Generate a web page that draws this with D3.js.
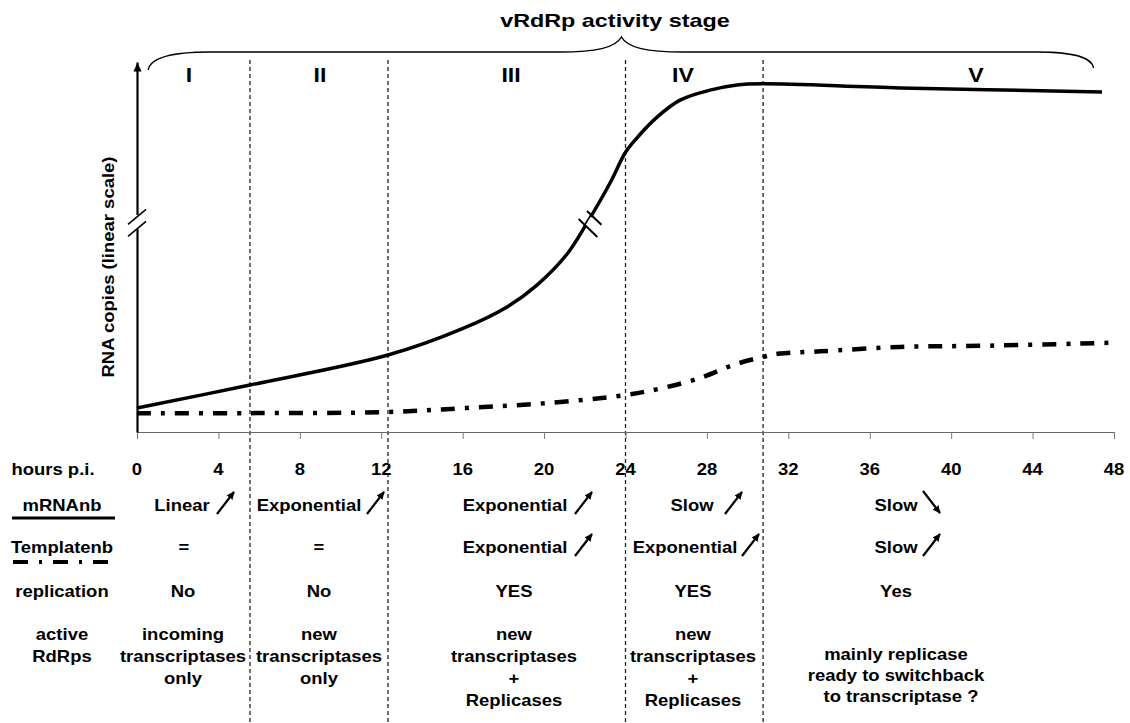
<!DOCTYPE html>
<html><head><meta charset="utf-8">
<script src="https://cdn.jsdelivr.net/npm/d3@7"></script>
<style>
body{margin:0;background:#fff}
svg{display:block}
text{font-family:"Liberation Sans",Arial,Helvetica,sans-serif;font-weight:bold;fill:#000}
</style>
</head><body>
<svg id="chart" width="1130" height="723"></svg>
<script>
// ---------- data ----------
const hourTicks = [0,4,8,12,16,20,24,28,32,36,40,44,48];
const stageNames = ["I","II","III","IV","V"];
const stageBounds = [5.55, 12.33, 24.0, 30.76];
const mrnaHours  = [0, 5.55, 12.33, 16.02, 18.18, 19.65, 21.13, 22.11, 23.24, 23.98, 24.47, 25.55, 26.68, 28.15, 29.48, 30.76, 37.49, 47.41];
const mrnaValues = [6.5, 12.7, 20.8, 28.0, 33.8, 39.7, 48.1, 56.5, 67.3, 75.4, 78.9, 85.1, 89.7, 92.4, 93.8, 94.1, 93.0, 91.9];
const templateHours  = [0, 5.55, 12.18, 16.21, 20.14, 23.98, 25.84, 27.66, 29.28, 30.76, 31.59, 33.56, 37.49, 41.56, 47.8];
const templateValues = [5.1, 5.1, 5.4, 6.5, 7.8, 10.0, 11.9, 14.6, 18.1, 20.3, 21.2, 21.8, 23.0, 23.3, 24.1];
const breakHour = 22.31, breakValue = 56.5;
const title = "vRdRp activity stage";
const yLabel = "RNA copies (linear scale)";
const rowLabels = ["hours p.i.", "mRNAnb", "Templatenb", "replication", "active", "RdRps"];
const mrnaTrend = ["Linear","Exponential","Exponential","Slow","Slow"];
const mrnaArrow = ["up","up","up","up","down"];
const templateTrend = ["=","=","Exponential","Exponential","Slow"];
const templateArrow = [null,null,"up","up","up"];
const replication = ["No","No","YES","YES","Yes"];
const activeRdRps = [
  ["incoming","transcriptases","only"],
  ["new","transcriptases","only"],
  ["new","transcriptases","+","Replicases"],
  ["new","transcriptases","+","Replicases"],
  ["mainly replicase","ready to switchback","to transcriptase ?"]
];

// ---------- layout ----------
const W = 1130, H = 723;
const svg = d3.select("#chart");
const x = d3.scaleLinear().domain([0,48]).range([137,1114]);
const y = d3.scaleLinear().domain([0,100]).range([432,62]);
const L = {
  numeralX: [189,320,511,683,976], numeralY: 82,
  colX: [183,319,514,693,896],
  mrnaTextX: [182,309,515,692,896], mrnaArrowX: [217,367,575,725,923],
  tmplTextX: [184,319,515,685,896], tmplArrowX: [0,0,575,742,923],
  lastColX: [896,896,901],
  rowY: {hours:475, mrna:511, tmpl:553, repl:597, active:640, activeV:660},
  labelX: 62
};
const SX = 1.12, FS = 16.5;

function T(sel, px, py, s, o = {}) {
  const size = o.size || FS, sx = o.sx || SX;
  return sel.append("text")
    .attr("transform", `translate(${px},${py})${o.rot ? ` rotate(${o.rot})` : ""} scale(${sx},1)`)
    .attr("text-anchor", o.anchor || "middle")
    .style("font-size", size + "px")
    .text(s);
}

const defs = svg.append("defs");
defs.append("marker").attr("id","ah").attr("viewBox","0 0 10 10")
  .attr("refX",9).attr("refY",5).attr("markerWidth",8).attr("markerHeight",8)
  .attr("markerUnits","userSpaceOnUse").attr("orient","auto")
  .append("path").attr("d","M0,0.5L10,5L0,9.5Z").attr("fill","#000");
defs.append("marker").attr("id","ya").attr("viewBox","0 0 10 10")
  .attr("refX",10).attr("refY",5).attr("markerWidth",10).attr("markerHeight",9)
  .attr("markerUnits","userSpaceOnUse").attr("orient","auto")
  .append("path").attr("d","M0,0.5L10,5L0,9.5Z").attr("fill","#000");

// ---------- stage boundaries ----------
svg.append("g").selectAll("line").data(stageBounds).join("line")
  .attr("x1", d => x(d)).attr("x2", d => x(d))
  .attr("y1", 60).attr("y2", H)
  .attr("stroke", "#222").attr("stroke-width", 1.3).attr("stroke-dasharray", "4,3");

// ---------- title & brace ----------
T(svg, 615, 27, title, {size: 19, sx: 1.23});
const bL = x(0.55), bR = x(47.0), bT = x(23.8);
svg.append("path")
  .attr("d", `M${bL},70 C${bL+2},58 ${bL+22},52 ${bL+62},52 L${bT-61},52 C${bT-26},52 ${bT-6},48 ${bT},37 C${bT+6},48 ${bT+26},52 ${bT+61},52 L${bR-57},52 C${bR-17},52 ${bR-2},58 ${bR},68`)
  .attr("fill","none").attr("stroke","#000").attr("stroke-width",1.4);

stageNames.forEach((s,i) => T(svg, L.numeralX[i], L.numeralY, s, {size: 21, sx: 1.1}));

// ---------- axes ----------
const gx = svg.append("g").attr("transform", `translate(0,${y(0)})`)
  .call(d3.axisBottom(x).tickValues(hourTicks).tickSize(7).tickSizeOuter(0).tickFormat(""));
gx.select(".domain").attr("stroke","#666").attr("stroke-width",1);
gx.selectAll(".tick line").attr("stroke","#777").attr("stroke-width",1);

const gy = svg.append("g").attr("transform", `translate(${x(0)},0)`)
  .call(d3.axisLeft(y).tickValues([]).tickSizeOuter(0));
gy.select(".domain").attr("stroke","#000").attr("stroke-width",2.2).attr("marker-end","url(#ya)");

// axis break
const ab = y(breakValue);
svg.append("rect").attr("x", x(0)-3).attr("y", ab-8).attr("width", 6).attr("height", 14).attr("fill","#fff");
[-6, 6].forEach(o => {
  svg.append("line")
    .attr("x1", x(0)-9).attr("y1", ab+o+7.5)
    .attr("x2", x(0)+9).attr("y2", ab+o-7.5)
    .attr("stroke","#000").attr("stroke-width",1.6);
});

// y label
T(svg, 114, 267, yLabel, {rot: -90});

// hour labels
svg.append("g").selectAll("g").data(hourTicks).join("g")
  .each(function(d){ T(d3.select(this), x(d), L.rowY.hours, String(d)); });

// ---------- curves ----------
const line = d3.line().x(d => x(d[0])).y(d => y(d[1])).curve(d3.curveCatmullRom.alpha(0.5));
svg.append("path").datum(templateHours.map((h,i)=>[h, templateValues[i]]))
  .attr("d", line).attr("fill","none").attr("stroke","#000")
  .attr("stroke-width",4.5).attr("stroke-dasharray","14,10,4,10");
svg.append("path").datum(mrnaHours.map((h,i)=>[h, mrnaValues[i]]))
  .attr("d", line).attr("fill","none").attr("stroke","#000").attr("stroke-width",3.5);

// curve break
{
  const cx = x(breakHour), cy = y(breakValue);
  const tx = 0.52, ty = -0.85;   // tangent direction
  const nx = 0.72, ny = 0.69;    // mark direction
  svg.append("line").attr("x1", cx - 5*tx).attr("y1", cy - 5*ty).attr("x2", cx + 5*tx).attr("y2", cy + 5*ty)
    .attr("stroke","#fff").attr("stroke-width",7);
  [[-6, 13], [6, 10]].forEach(([o, hl]) => {
    const mx = cx + o*tx, my = cy + o*ty;
    svg.append("line").attr("x1", mx - hl*nx).attr("y1", my - hl*ny).attr("x2", mx + hl*nx).attr("y2", my + hl*ny)
      .attr("stroke","#000").attr("stroke-width",2);
  });
}

// ---------- table ----------
const tbl = svg.append("g");
const rowYs = [L.rowY.hours, L.rowY.mrna, L.rowY.tmpl, L.rowY.repl, L.rowY.active, L.rowY.active + 22];
rowLabels.forEach((s,i) => T(tbl, i === 0 ? 53 : L.labelX, rowYs[i], s));
tbl.append("line").attr("x1",12).attr("x2",115).attr("y1",518).attr("y2",518)
  .attr("stroke","#000").attr("stroke-width",3);
tbl.append("line").attr("x1",13).attr("x2",110).attr("y1",562).attr("y2",562)
  .attr("stroke","#000").attr("stroke-width",4).attr("stroke-dasharray","15,11,3,11");

function arrow(ax, base, dir) {
  const p = dir === "up" ? [ax, base+3, ax+17, base-19] : [ax, base-20, ax+17, base+2];
  tbl.append("line").attr("x1",p[0]).attr("y1",p[1]).attr("x2",p[2]).attr("y2",p[3])
    .attr("stroke","#000").attr("stroke-width",2.2).attr("marker-end","url(#ah)");
}

mrnaTrend.forEach((s,i) => {
  T(tbl, L.mrnaTextX[i], L.rowY.mrna, s);
  if (mrnaArrow[i]) arrow(L.mrnaArrowX[i], L.rowY.mrna, mrnaArrow[i]);
});
templateTrend.forEach((s,i) => {
  T(tbl, L.tmplTextX[i], L.rowY.tmpl, s);
  if (templateArrow[i]) arrow(L.tmplArrowX[i], L.rowY.tmpl, templateArrow[i]);
});
replication.forEach((s,i) => T(tbl, L.colX[i], L.rowY.repl, s));
activeRdRps.forEach((lines,i) => {
  lines.forEach((s,j) => {
    if (i === 4) T(tbl, L.lastColX[j], L.rowY.activeV + j*21, s);
    else T(tbl, L.colX[i], L.rowY.active + j*22, s);
  });
});
</script>
</body></html>
